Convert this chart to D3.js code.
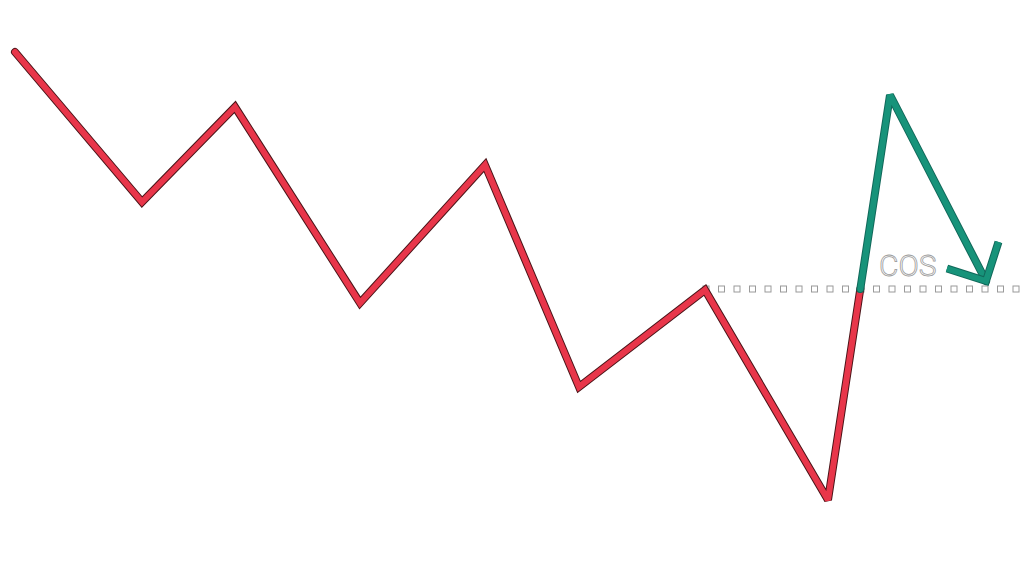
<!DOCTYPE html>
<html lang="en">
<head>
    <meta charset="utf-8" />
    <title>COS zigzag</title>
    <script src="https://d3js.org/d3.v7.min.js"></script>
    <style>
        html, body { margin: 0; padding: 0; background: #fff; }
    </style>
</head>
<body>
    <script>
        var w = 1024;
        var h = 575;

        // swing points (time, price)
        var times = [15, 142, 235, 360, 485, 579, 705, 828, 890, 986];
        var prices = [523, 373, 468, 272, 410, 188, 285, 75, 480, 294];
        var levelPrice = 286;        // dotted level
        var levelStart = 706;        // where the dotted level begins
        var levelEnd = 1020;
        var label = "COS";

        var xScale = d3.scaleLinear().domain([0, w]).range([0, w]);
        var yScale = d3.scaleLinear().domain([0, h]).range([h, 0]);

        var svg = d3.select("body")
            .append("svg")
            .attr("width", w)
            .attr("height", h);

        var pts = times.map(function (t, i) { return [t, prices[i]]; });

        // find where the last up-leg crosses the level
        var a = pts[7], b = pts[8];
        var k = (levelPrice - a[1]) / (b[1] - a[1]);
        var cross = [a[0] + k * (b[0] - a[0]), levelPrice];

        var redPts = pts.slice(0, 8).concat([cross]);
        var greenPts = [cross].concat(pts.slice(8));

        var line = d3.line()
            .x(function (d) { return xScale(d[0]); })
            .y(function (d) { return yScale(d[1]); });

        // dotted level made of small hollow squares
        var step = 15.5;
        svg.selectAll("rect.dot")
            .data(d3.range(levelStart, levelEnd, step))
            .enter()
            .append("rect")
            .attr("class", "dot")
            .attr("x", function (d) { return xScale(d) - 3; })
            .attr("y", yScale(levelPrice) - 3)
            .attr("width", 6)
            .attr("height", 6)
            .attr("fill", "#fff")
            .attr("stroke", "#9a9a9a")
            .attr("stroke-width", 1);

        function drawLeg(data, color, edge) {
            svg.append("path")
                .attr("d", line(data))
                .attr("fill", "none")
                .attr("stroke", edge)
                .attr("stroke-width", 8)
                .attr("stroke-linejoin", "miter")
                .attr("stroke-miterlimit", 2.2)
                .attr("stroke-linecap", "round");
            svg.append("path")
                .attr("d", line(data))
                .attr("fill", "none")
                .attr("stroke", color)
                .attr("stroke-width", 6)
                .attr("stroke-linejoin", "miter")
                .attr("stroke-miterlimit", 2.2)
                .attr("stroke-linecap", "round");
        }

        drawLeg(redPts, "#e8364a", "#4a1418");
        drawLeg(greenPts, "#17937a", "#11685a");

        // arrow head on the last leg
        var p1 = [xScale(pts[8][0]), yScale(pts[8][1])];
        var p2 = [xScale(pts[9][0]), yScale(pts[9][1])];
        var ang = Math.atan2(p1[1] - p2[1], p1[0] - p2[0]);
        var len = 41;
        var head = [
            [p2[0] + len * Math.cos(ang - Math.PI / 4), p2[1] + len * Math.sin(ang - Math.PI / 4)],
            p2,
            [p2[0] + len * Math.cos(ang + Math.PI / 4), p2[1] + len * Math.sin(ang + Math.PI / 4)]
        ];
        svg.append("path")
            .attr("d", d3.line()(head))
            .attr("fill", "none")
            .attr("stroke", "#11685a")
            .attr("stroke-width", 8)
            .attr("stroke-linejoin", "miter")
            .attr("stroke-linecap", "butt");
        svg.append("path")
            .attr("d", d3.line()(head))
            .attr("fill", "none")
            .attr("stroke", "#17937a")
            .attr("stroke-width", 6)
            .attr("stroke-linejoin", "miter")
            .attr("stroke-linecap", "butt");

        // outlined label
        svg.append("text")
            .attr("x", xScale(879))
            .attr("y", yScale(levelPrice) - 13)
            .attr("font-family", "Roboto, sans-serif")
            .attr("font-weight", 300)
            .attr("font-size", "30px")
            .attr("fill", "#fff")
            .attr("stroke", "#9a9a9a")
            .attr("stroke-width", 0.8)
            .text(label);
    </script>
</body>
</html>
